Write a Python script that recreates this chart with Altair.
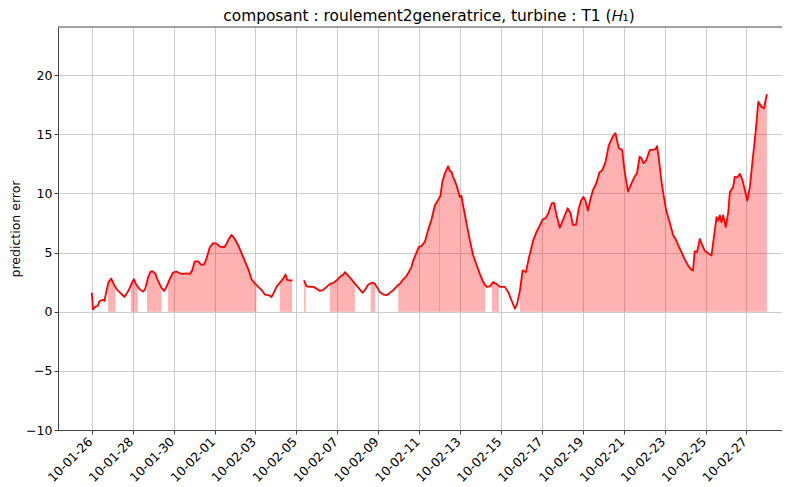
import json
import numpy as np
import pandas as pd
import altair as alt

# ---- data (x = days since 2010-01-26 00:00) ----
SEG1_DAYS = [0.00, 0.06, 0.13, 0.29, 0.38, 0.54, 0.62, 0.70, 0.82, 0.95, 1.11, 1.27, 1.44, 1.60,
             1.77, 1.93, 2.06, 2.17, 2.34, 2.50, 2.61, 2.75, 2.88, 3.00, 3.11, 3.24, 3.40, 3.53,
             3.64, 3.81, 3.97, 4.13, 4.30, 4.46, 4.62, 4.79, 4.90, 5.03, 5.20, 5.36, 5.49, 5.60,
             5.77, 5.93, 6.10, 6.26, 6.47, 6.59, 6.70, 6.83, 6.99, 7.16, 7.32, 7.48, 7.65, 7.81,
             7.97, 8.14, 8.29, 8.46, 8.62, 8.70, 8.78, 8.87, 9.03, 9.19, 9.36, 9.47, 9.55, 9.65,
             9.81]
SEG1_ERR = [1.6, 0.2, 0.35, 0.5, 0.9, 1.0, 0.9, 1.6, 2.5, 2.8, 2.2, 1.8, 1.5, 1.25,
            1.7, 2.3, 2.75, 2.3, 1.9, 1.7, 1.9, 2.9, 3.4, 3.4, 3.2, 2.6, 2.05, 1.75,
            2.05, 2.75, 3.3, 3.4, 3.25, 3.2, 3.25, 3.2, 3.45, 4.25, 4.25, 3.95, 4.0, 4.45,
            5.45, 5.8, 5.75, 5.5, 5.45, 5.75, 6.15, 6.5, 6.15, 5.6, 4.95, 4.3, 3.6, 2.75,
            2.4, 2.1, 1.85, 1.45, 1.4, 1.35, 1.25, 1.5, 2.1, 2.45, 2.8, 3.15, 2.7, 2.65,
            2.65]

SEG2_DAYS = [10.37, 10.50, 10.66, 10.83, 10.99, 11.15, 11.32, 11.48, 11.65, 11.81, 11.97, 12.13,
             12.30, 12.38, 12.51, 12.71, 12.87, 13.07, 13.23, 13.36, 13.52, 13.69, 13.82, 13.93,
             14.09, 14.26, 14.42, 14.58, 14.75, 14.91, 15.08, 15.20, 15.35, 15.45, 15.54, 15.62,
             15.71, 15.80, 15.89, 16.00, 16.11, 16.28, 16.44, 16.60, 16.77, 16.93, 17.04, 17.14,
             17.26, 17.34, 17.42, 17.50, 17.58, 17.66, 17.83, 17.99, 18.07, 18.15, 18.32, 18.48,
             18.64, 18.81, 18.97, 19.13, 19.30, 19.46, 19.62, 19.78, 19.95, 20.19, 20.36, 20.52,
             20.68, 20.80, 20.93, 21.06, 21.22, 21.38, 21.58, 21.74, 21.87, 22.04, 22.20, 22.31,
             22.48, 22.59, 22.72, 22.88, 23.02, 23.26, 23.41, 23.51, 23.67, 23.80, 23.92, 24.03,
             24.13, 24.25, 24.36, 24.49, 24.65, 24.82, 24.95, 25.11, 25.27, 25.39, 25.50, 25.60,
             25.67, 25.76, 25.93, 26.04, 26.21, 26.37, 26.53, 26.65, 26.78, 26.86, 26.97, 27.10,
             27.27, 27.43, 27.56, 27.63, 27.73, 27.84, 27.95, 28.08, 28.25, 28.41, 28.58, 28.71,
             28.82, 28.98, 29.15, 29.31, 29.39, 29.47, 29.59, 29.72, 29.85, 29.96, 30.13, 30.29,
             30.41, 30.54, 30.62, 30.70, 30.78, 30.86, 30.99, 31.11, 31.19, 31.35, 31.43, 31.55,
             31.68, 31.81, 31.93, 32.04, 32.17, 32.30, 32.46, 32.58, 32.74, 32.86, 32.92, 33.00]
SEG2_ERR = [2.65, 2.15, 2.1, 2.1, 1.95, 1.75, 1.85, 2.1, 2.35, 2.45, 2.65, 2.95,
            3.15, 3.35, 3.1, 2.7, 2.35, 1.95, 1.6, 1.85, 2.3, 2.45, 2.4, 2.1,
            1.65, 1.45, 1.4, 1.6, 1.85, 2.15, 2.4, 2.7, 2.95, 3.2, 3.5, 3.75,
            4.3, 4.7, 5.05, 5.5, 5.55, 5.9, 6.9, 7.75, 9.0, 9.45, 9.8, 11.0,
            11.7, 12.0, 12.3, 11.9, 11.85, 11.4, 10.7, 9.7, 9.8, 9.0, 7.45, 6.05,
            4.8, 3.95, 3.2, 2.5, 2.1, 2.15, 2.5, 2.35, 2.1, 2.1, 1.65, 0.95,
            0.25, 0.7, 1.8, 3.5, 3.35, 4.65, 6.05, 6.75, 7.2, 7.8, 7.95, 8.3,
            9.15, 9.2, 8.15, 7.1, 7.7, 8.75, 8.3, 7.35, 7.35, 8.7, 9.4, 9.7,
            9.4, 8.55, 9.4, 10.25, 10.8, 11.8, 11.95, 12.65, 14.05, 14.5, 14.9, 15.1,
            14.5, 13.85, 13.65, 11.95, 10.15, 10.8, 11.4, 11.7, 13.1, 13.0, 12.55, 12.8,
            13.65, 13.7, 13.75, 14.0, 12.8, 11.1, 9.85, 8.55, 7.55, 6.5, 6.0, 5.45,
            5.05, 4.45, 3.9, 3.55, 3.5, 5.1, 5.05, 6.15, 5.6, 5.15, 4.95, 4.75,
            6.3, 8.0, 7.7, 8.15, 7.55, 8.15, 7.15, 8.4, 10.1, 10.55, 11.4, 11.35,
            11.65, 11.1, 10.25, 9.4, 10.55, 12.8, 15.35, 17.75, 17.3, 17.2, 17.75, 18.4]

# shaded (flagged) periods, start/end in days
SHADED = [(0.80, 1.16), (1.91, 2.25), (2.70, 3.41), (3.73, 8.05), (9.19, 9.79),
          (10.38, 10.46), (11.64, 12.86), (13.63, 13.85), (14.98, 17.00), (16.97, 19.23),
          (19.56, 19.90), (20.93, 33.00)]

TICK_DAYS = list(range(0, 33, 2))
TICK_LABELS = ["10-01-26", "10-01-28", "10-01-30", "10-02-01", "10-02-03", "10-02-05",
               "10-02-07", "10-02-09", "10-02-11", "10-02-13", "10-02-15", "10-02-17",
               "10-02-19", "10-02-21", "10-02-23", "10-02-25", "10-02-27"]
Y_TICKS = [-10, -5, 0, 5, 10, 15, 20]

TITLE = "composant : roulement2generatrice, turbine : T1 (\U0001D43B\u2081)"

# ---- tables ----
line_df = pd.concat([
    pd.DataFrame({"day": SEG1_DAYS, "err": SEG1_ERR, "seg": 1}),
    pd.DataFrame({"day": SEG2_DAYS, "err": SEG2_ERR, "seg": 2}),
], ignore_index=True)

rows = []
for gi, (a, b) in enumerate(SHADED):
    if b <= SEG1_DAYS[-1] + 1e-9:
        dd, ee = np.array(SEG1_DAYS), np.array(SEG1_ERR)
    else:
        dd, ee = np.array(SEG2_DAYS), np.array(SEG2_ERR)
    xs = [a] + [d for d in dd if a < d < b] + [b]
    ys = np.interp(xs, dd, ee)
    for x, y in zip(xs, ys):
        rows.append({"day": float(x), "err": float(y), "grp": gi})
area_df = pd.DataFrame(rows)

X0, X1 = -1.65, 34.13
W, H = 732, 403

label_expr = json.dumps(TICK_LABELS) + "[round(datum.value / 2)]"

x_enc = alt.X("day:Q",
              scale=alt.Scale(domain=[X0, X1], nice=False, zero=False),
              axis=alt.Axis(values=TICK_DAYS, labelExpr=label_expr, labelAngle=315,
                            labelAlign="right", labelBaseline="top", title=None,
                            grid=True, labelPadding=1, labelOffset=-6,
                            labelOverlap=False))
y_enc = alt.Y("err:Q",
              scale=alt.Scale(domain=[-10, 24.07], nice=False, zero=False),
              axis=alt.Axis(values=Y_TICKS, title="prediction error", grid=True,
                            titleX=-36, titleY=H / 2, titleAngle=270,
                            titleBaseline="bottom", titleAlign="center"),
              stack=None)

area = alt.Chart(area_df).mark_area(color="#ff0000", opacity=0.3).encode(
    x=x_enc, y=y_enc, y2=alt.datum(0), detail="grp:N")

line = alt.Chart(line_df).mark_line(color="#ff0000", strokeWidth=1.8,
                                    strokeJoin="round").encode(
    x=x_enc, y=y_enc, detail="seg:N")

top = alt.Chart(pd.DataFrame({"a": [0]})).mark_rule(color="#444444", strokeWidth=1).encode(
    x=alt.value(0), x2=alt.value(W), y=alt.value(0))

chart = alt.layer(area, line, top).properties(
    width=W, height=H,
    autosize=alt.AutoSizeParams(type="none"),
    padding={"left": 50, "top": 19, "right": -8, "bottom": 57},
    title=alt.TitleParams(text=TITLE, fontSize=15.4, font="DejaVu Sans",
                          fontWeight="normal", anchor="middle", dx=5, dy=14,
                          baseline="alphabetic", offset=4, color="black"),
    background="white",
).configure_axis(
    labelFont="DejaVu Sans", labelFontSize=12.5, labelColor="black",
    titleFont="DejaVu Sans", titleFontSize=12.5, titleFontWeight="normal",
    titleColor="black", gridColor="#cccccc", gridWidth=1,
    domainColor="#444444", tickColor="#444444", tickSize=4, labelPadding=2,
).configure_view(stroke=None)

chart.save("out.html", embed_options={"renderer": "svg", "actions": False})
